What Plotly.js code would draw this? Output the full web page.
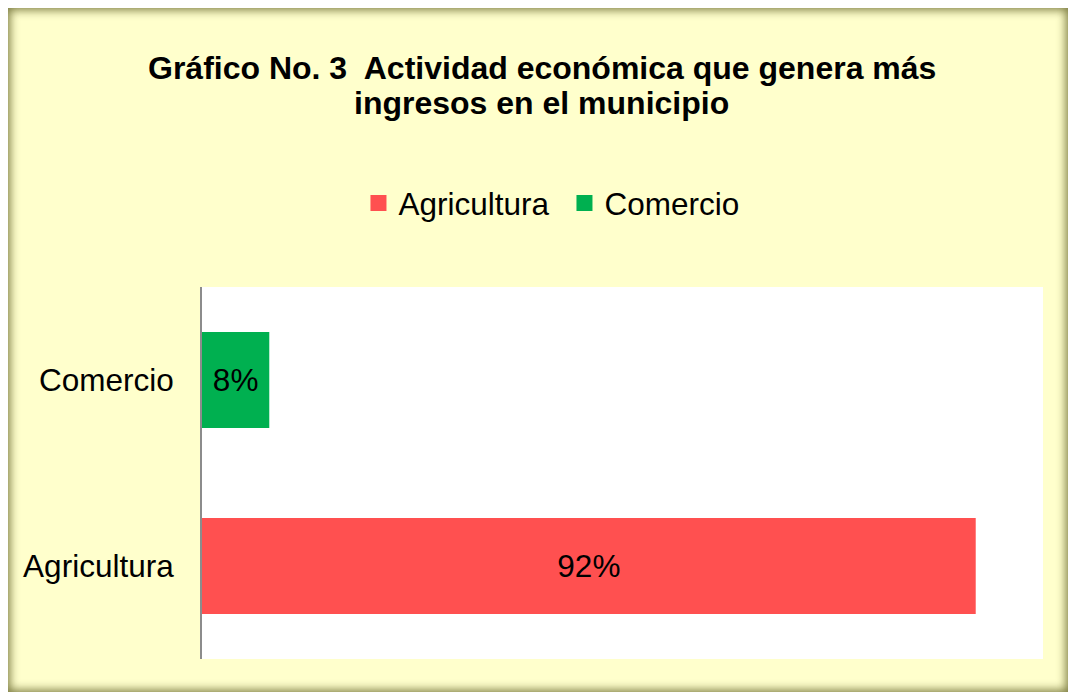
<!DOCTYPE html>
<html>
<head>
<meta charset="utf-8">
<script src="https://cdn.plot.ly/plotly-3.0.1.min.js"></script>
<style>
  html, body { margin: 0; padding: 0; background: #ffffff; width: 1068px; height: 693px; overflow: hidden; }
  #frame {
    position: absolute; left: 8px; top: 8px; width: 1060px; height: 684px;
    background: #FFFFCC;
    box-shadow: inset 0 0 10px 2px rgba(90, 90, 30, 0.8);
  }
  #chart { position: absolute; left: 0; top: 0; width: 1060px; height: 684px; }
</style>
</head>
<body>
<div id="frame"><div id="chart"></div></div>
<script>
const categories = ['Agricultura', 'Comercio'];
const values = [0.92, 0.08];
const colors = ['#FF5050', '#00B050'];
const titleLines = ['Gráfico No. 3  Actividad económica que genera más', 'ingresos en el municipio'];

const FONT = 'Arial, "Liberation Sans", sans-serif';

const barTraces = categories.map((c, i) => ({
  type: 'bar',
  orientation: 'h',
  name: c,
  legendgroup: c,
  showlegend: false,
  y: [c],
  x: [values[i]],
  marker: { color: colors[i] },
  texttemplate: '%{x:.0%}',
  textposition: 'inside',
  insidetextanchor: 'middle',
  textfont: { family: FONT, size: 31.5, color: '#000000' },
  hoverinfo: 'skip'
}));

// legend-only entries with larger square swatches
const legendTraces = categories.map((c, i) => ({
  type: 'scatter',
  mode: 'markers',
  name: c,
  legendgroup: c,
  x: [null], y: [null],
  marker: { symbol: 'square', size: 17, color: colors[i] },
  hoverinfo: 'skip'
}));

const layout = {
  width: 1060, height: 684,
  margin: { l: 194, r: 25, t: 279, b: 33, pad: 0 },
  paper_bgcolor: 'rgba(0,0,0,0)',
  plot_bgcolor: '#FFFFFF',
  font: { family: FONT, size: 31, color: '#000000' },
  barmode: 'overlay',
  bargap: 0.484,
  showlegend: true,
  legend: {
    orientation: 'h',
    x: 0.431, xanchor: 'center',
    y: 1.226, yanchor: 'middle',
    font: { family: FONT, size: 31.5, color: '#000000' },
    bgcolor: 'rgba(0,0,0,0)',
    itemwidth: 30,
    entrywidth: 161,
    traceorder: 'normal'
  },
  xaxis: {
    range: [0, 1],
    showgrid: false, zeroline: false, showline: false,
    showticklabels: false, ticks: '', fixedrange: true
  },
  yaxis: {
    type: 'category',
    categoryorder: 'array', categoryarray: categories,
    range: [-0.5, 1.5],
    showgrid: false, zeroline: false,
    showline: true, linecolor: '#8C8C8C', linewidth: 2,
    ticks: '', ticklabelstandoff: 20,
    tickfont: { family: FONT, size: 31.5, color: '#000000' },
    fixedrange: true
  },
  annotations: titleLines.map((t, i) => ({
    text: '<b>' + t + '</b>',
    xref: 'paper', yref: 'paper',
    x: 0.404, y: i === 0 ? 1.588 : 1.495,
    xanchor: 'center', yanchor: 'middle',
    showarrow: false,
    font: { family: FONT, size: 32, color: '#000000' }
  }))
};

Plotly.newPlot('chart', barTraces.concat(legendTraces), layout, { displayModeBar: false, staticPlot: true });
</script>
</body>
</html>
